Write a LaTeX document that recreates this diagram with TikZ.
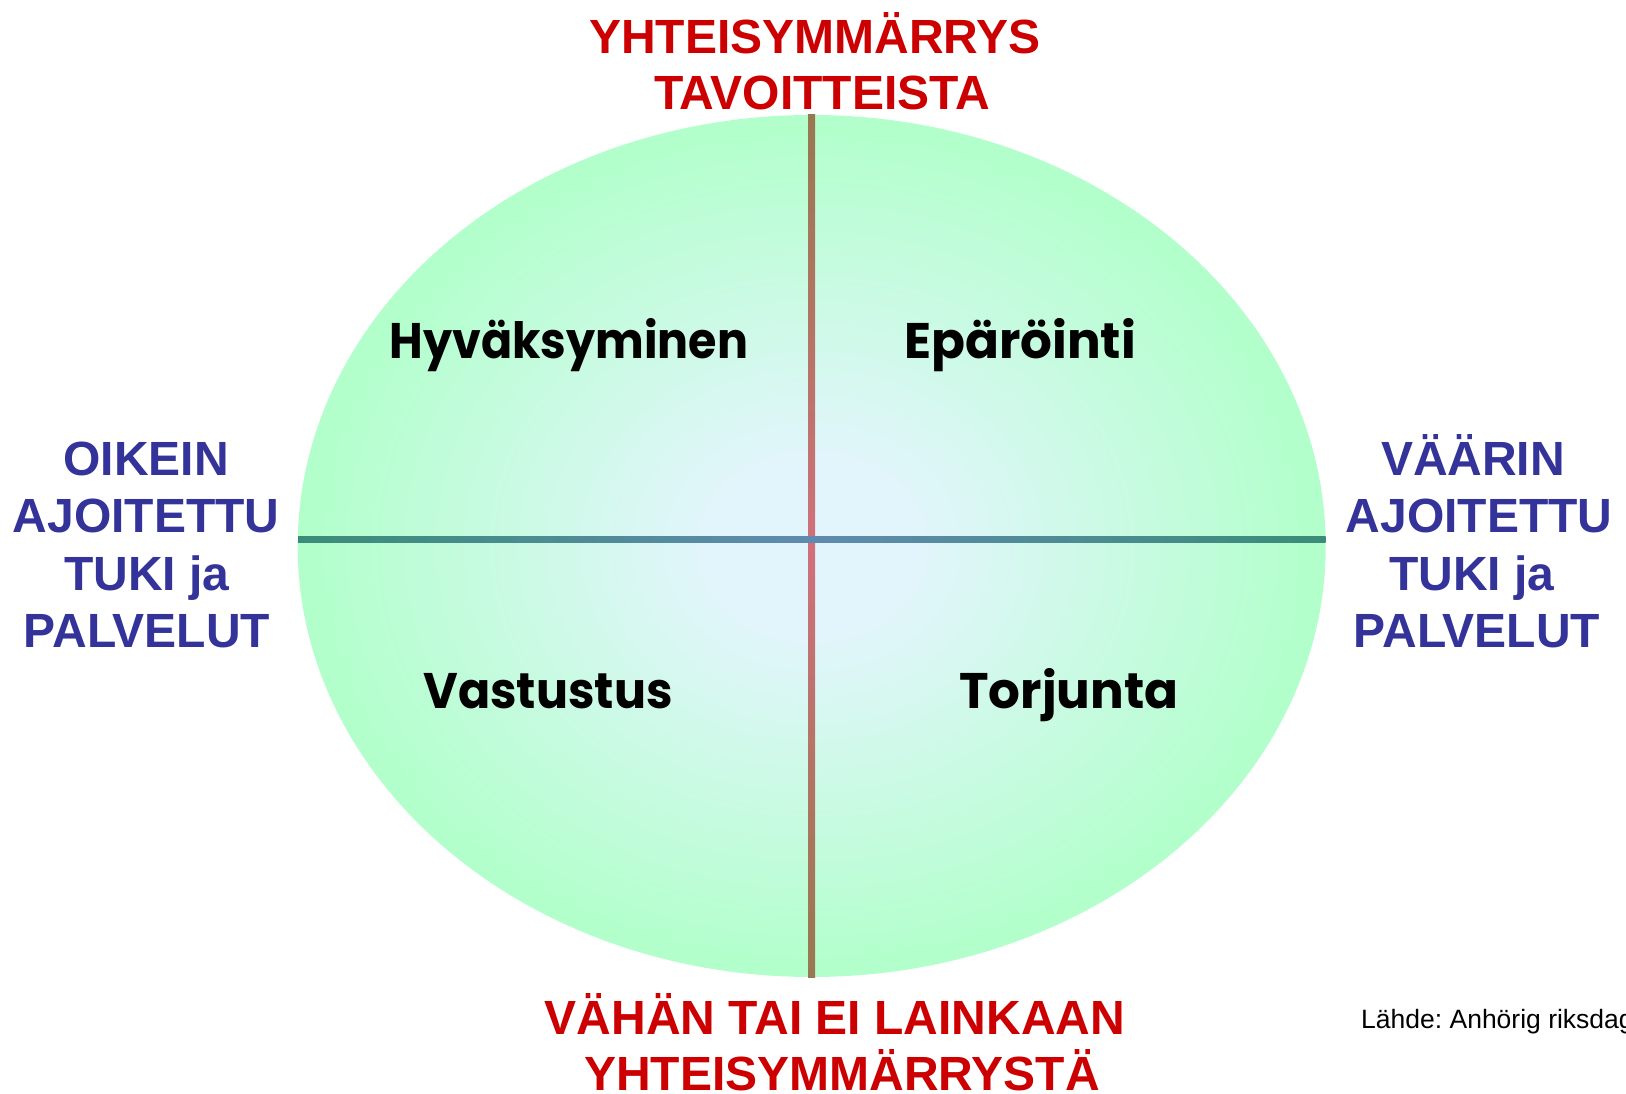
\documentclass[tikz,border=0pt]{standalone}
\usepackage{fontspec}
\setmainfont{Liberation Sans}
\newfontfamily\comicfont{Poppins}
\frenchspacing
\definecolor{lblred}{RGB}{204,0,0}
\definecolor{lblblue}{RGB}{51,51,153}
\definecolor{ellin}{RGB}{226,245,252}
\definecolor{ellout}{RGB}{179,255,204}
\definecolor{vend}{RGB}{152,120,80}
\definecolor{vmid}{RGB}{208,112,122}
\definecolor{hend}{RGB}{58,140,120}
\definecolor{hmid}{RGB}{95,139,174}
\pgfdeclareradialshading{ellshade}{\pgfpoint{0bp}{0bp}}{%
  color(0bp)=(ellin); color(5bp)=(ellin); color(24bp)=(ellout); color(50bp)=(ellout)}
\tikzset{
  axislbl/.style={font=\fontsize{48}{57}\selectfont\bfseries, inner sep=0pt, anchor=base},
  redlbl/.style={axislbl, text=lblred},
  bluelbl/.style={axislbl, text=lblblue},
  quadlbl/.style={font=\comicfont\fontsize{50}{60}\selectfont\bfseries, inner sep=0pt, anchor=base, text=black},
}
\begin{document}
\begin{tikzpicture}[x=1pt,y=-1pt]
\useasboundingbox (0,0) rectangle (1626,1094);
\fill[white] (0,0) rectangle (1626,1094);
% ellipse
\shade[shading=ellshade] (811.7,546) ellipse [x radius=514, y radius=431];
% vertical line
\shade[top color=vend, bottom color=vend, middle color=vmid] (808.2,115) rectangle (815.2,977);
% horizontal line
\shade[left color=hend, right color=hend, middle color=hmid] (298,536) rectangle (1325.5,542);
% axis labels
\node[redlbl] (top1) at (815,54) {YHTEISYMMÄRRYS};
\node[redlbl] (top2) at (822,110) {TAVOITTEISTA};
\node[redlbl] (bot1) at (835,1034) {VÄHÄN TAI EI LAINKAAN};
\node[redlbl] (bot2) at (842,1090) {YHTEISYMMÄRRYSTÄ};
\node[bluelbl] (l1) at (146,475) {OIKEIN};
\node[bluelbl] (l2) at (146,532) {AJOITETTU};
\node[bluelbl] (l3) at (147,590) {TUKI ja};
\node[bluelbl] (l4) at (147,647) {PALVELUT};
\node[bluelbl] (r1) at (1473,475) {VÄÄRIN};
\node[bluelbl] (r2) at (1479,532) {AJOITETTU};
\node[bluelbl] (r3) at (1472,590) {TUKI ja};
\node[bluelbl] (r4) at (1477,647) {PALVELUT};
% quadrant labels
\node[quadlbl, xscale=0.92] (q1) at (569,358) {Hyväksyminen};
\node[quadlbl] (q2) at (1020,358) {Epäröinti};
\node[quadlbl, xscale=0.95] (q3) at (548,708) {Vastustus};
\node[quadlbl] (q4) at (1069,708) {Torjunta};
% source
\node[font=\fontsize{26.5}{30}\selectfont, inner sep=0pt, anchor=base west] (src) at (1361,1028) {Lähde: Anhörig riksdag};
\end{tikzpicture}
\end{document}
